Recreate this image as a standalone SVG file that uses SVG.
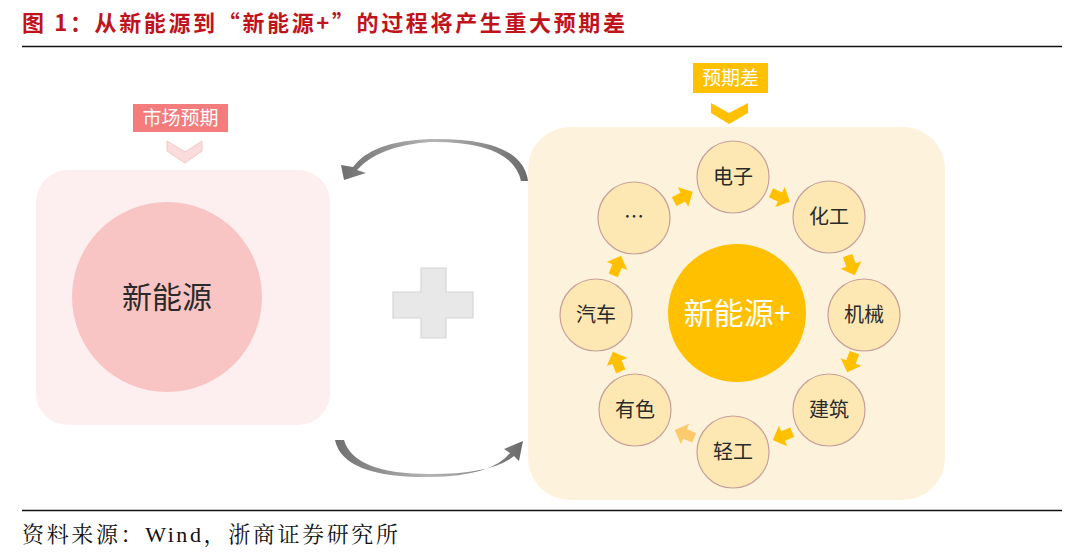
<svg xmlns="http://www.w3.org/2000/svg" width="1080" height="554" viewBox="0 0 1080 554">
<defs>
<style>
.title{font-family:"Noto Sans CJK SC",sans-serif;font-weight:bold;font-size:22px;fill:#c0141c}
.foot{font-family:"Liberation Serif","Noto Serif CJK SC","Noto Sans CJK SC",serif;font-size:22px;fill:#111}
.sm{fill:#fde8b4;stroke:#c7a09a;stroke-width:1.2}
.smt{font-family:"Noto Sans CJK SC",sans-serif;font-size:20px;fill:#2a2a2a;text-anchor:middle}
.tag{font-family:"Noto Sans CJK SC",sans-serif;font-size:19px;fill:#fff;text-anchor:middle}
.ar{fill:#ffc000}
</style>
<linearGradient id="gt" x1="0" y1="0" x2="1" y2="0">
<stop offset="0" stop-color="#6f6f6f"/><stop offset="0.5" stop-color="#b5b5b5"/><stop offset="1" stop-color="#6a6a6a"/>
</linearGradient>
<polygon id="ba" points="0,-11 11,0 5,0 5,10 -5,10 -5,0 -11,0"/>
</defs>
<rect width="1080" height="554" fill="#fff"/>
<text class="title" x="22" y="31" textLength="603" lengthAdjust="spacing">图 1：从新能源到“新能源+”的过程将产生重大预期差</text>
<line x1="22" y1="46.5" x2="1062" y2="46.5" stroke="#111" stroke-width="1.5"/>
<line x1="22" y1="510.5" x2="1062" y2="510.5" stroke="#111" stroke-width="1.5"/>
<text class="foot" x="22" y="542" textLength="376" lengthAdjust="spacing">资料来源：Wind，浙商证券研究所</text>

<g id="left-panel">
<rect x="36" y="170" width="294" height="255" rx="32" fill="#fdeef0"/>
<circle cx="167" cy="297" r="95" fill="#f9c4c4"/>
<text x="167" y="308" font-family="Noto Sans CJK SC,sans-serif" font-size="30" fill="#2a2a2a" text-anchor="middle">新能源</text>
</g>
<g id="tag-market">
<rect x="133" y="104" width="95" height="28" fill="#f47c7c"/>
<text class="tag" x="180.5" y="125">市场预期</text>
<polygon points="167,141 185,152 202,141 202,151 185,163 167,151" fill="#fbdcdc" stroke="#f3c8c8" stroke-width="1"/>
</g>

<g id="plus">
<path d="M421,268 H446 V292 H473 V318 H446 V338 H421 V318 H393 V292 H421 Z" fill="#e8e8e8" stroke="#d6d6d6" stroke-width="1.2"/>
</g>

<g id="right-panel">
<rect x="528" y="127" width="417" height="373" rx="42" fill="#fdf3dc"/>
<circle cx="737" cy="313" r="69" fill="#ffc000"/>
<text x="737" y="324" font-family="Noto Sans CJK SC,sans-serif" font-size="30" fill="#fff" text-anchor="middle">新能源+</text>
</g>
<g id="tag-gap">
<rect x="693" y="63" width="75" height="30" fill="#ffc000"/>
<text class="tag" x="730.5" y="85">预期差</text>
<polygon points="711,103 729,113 748,103 748,113 729,124 711,113" fill="#ffc000"/>
</g>

<g id="n-dianzi"><circle class="sm" cx="733" cy="177" r="36"/><text class="smt" x="733" y="184">电子</text></g>
<g id="n-huagong"><circle class="sm" cx="829" cy="217" r="36"/><text class="smt" x="829" y="224">化工</text></g>
<g id="n-jixie"><circle class="sm" cx="864" cy="315" r="36"/><text class="smt" x="864" y="322">机械</text></g>
<g id="n-jianzhu"><circle class="sm" cx="829" cy="410" r="36"/><text class="smt" x="829" y="417">建筑</text></g>
<g id="n-qinggong"><circle class="sm" cx="733" cy="452" r="36"/><text class="smt" x="733" y="459">轻工</text></g>
<g id="n-youse"><circle class="sm" cx="635" cy="410" r="36"/><text class="smt" x="635" y="417">有色</text></g>
<g id="n-qiche"><circle class="sm" cx="596" cy="315" r="36"/><text class="smt" x="596" y="322">汽车</text></g>
<g id="n-etc"><circle class="sm" cx="634" cy="218" r="36"/><text class="smt" x="634" y="224" font-size="15">…</text></g>

<g id="connectors">
<use href="#ba" class="ar" transform="translate(683,197) rotate(62)"/>
<use href="#ba" class="ar" transform="translate(780,197) rotate(115)"/>
<use href="#ba" class="ar" transform="translate(851,265) rotate(160)"/>
<use href="#ba" class="ar" transform="translate(851,362) rotate(200)"/>
<use href="#ba" class="ar" transform="translate(783,436) rotate(248)"/>
<use href="#ba" fill="#fcca6c" transform="translate(685,434) rotate(292)"/>
<use href="#ba" class="ar" transform="translate(617,362) rotate(338)"/>
<use href="#ba" class="ar" transform="translate(617,266) rotate(22)"/>
<path d="M528,181 Q522,137 430,139 Q372,141 353,167 L341,165 L344,180 L366,173 L357,170 Q378,146 430,142 Q512,141 521,181 Z" fill="url(#gt)"/>
<path d="M335,440 Q343,478 430,477 Q492,476 510,453 L504,449 L523,441 L519,461 L514,456 Q492,474 430,474 Q354,474 344,440 Z" fill="url(#gt)"/>
</g>
</svg>
